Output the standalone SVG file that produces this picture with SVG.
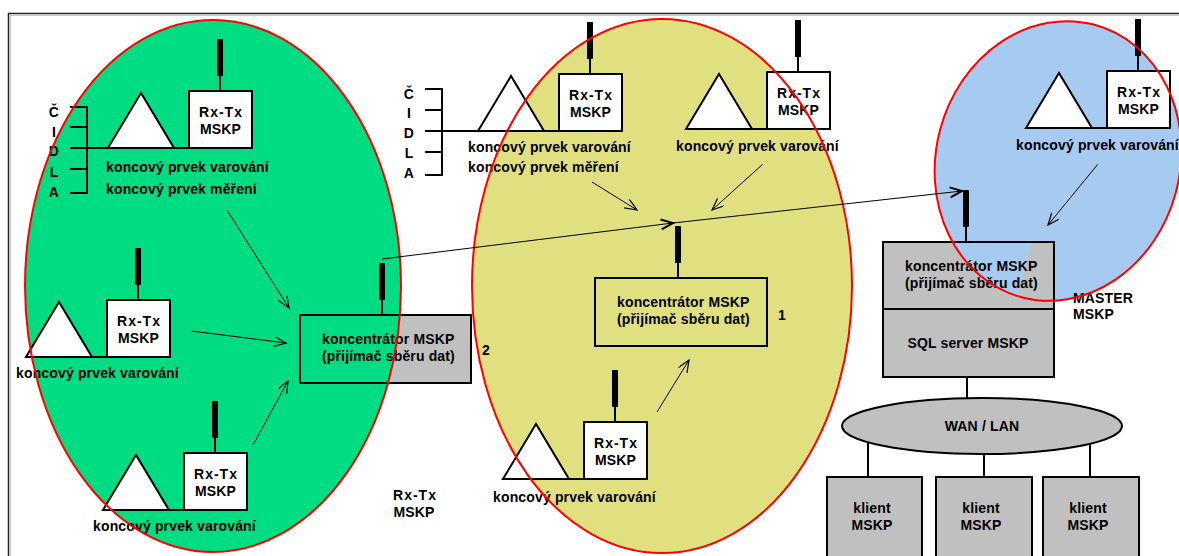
<svg xmlns="http://www.w3.org/2000/svg" xmlns:xlink="http://www.w3.org/1999/xlink" width="1179" height="556" viewBox="0 0 1179 556">
  <defs>
    <style>
      text { font-family: "Liberation Sans", Arial, sans-serif; font-weight: bold; font-size: 14px; fill: #000; letter-spacing: 0.15px; }
      .c { text-anchor: middle; }
      .rt { letter-spacing: 1px; }
      .box { fill: #fff; stroke: #000; stroke-width: 2; }
      .tri { fill: #fff; stroke: #000; stroke-width: 2; stroke-linejoin: miter; }
      .wire { stroke: #000; stroke-width: 2; fill: none; }
      .ant { fill: #000; }
      .grayfill { fill: #c0c0c0; }
      .edge { fill: none; stroke: #000; stroke-width: 2; }
      .gray { fill: #c0c0c0; stroke: #000; stroke-width: 2; }
      .zone-edge { fill: none; stroke: #ff0000; stroke-width: 2; }
      .link { stroke: #000; stroke-width: 1; fill: none; }
      .g-fill { fill: #00dc82; }
      .y-fill { fill: #e0e080; }
      .b-fill { fill: #a6caf0; }
    </style>
    <marker id="arr" markerWidth="14" markerHeight="12" refX="12" refY="5" orient="auto" markerUnits="userSpaceOnUse">
      <path d="M0,0 L12,5 L0,10" fill="none" stroke="#000" stroke-width="1.2"/>
    </marker>
    <marker id="arrB" markerWidth="16" markerHeight="14" refX="13" refY="6" orient="auto" markerUnits="userSpaceOnUse">
      <path d="M1,1 L13,6 L1,11" fill="none" stroke="#000" stroke-width="2"/>
    </marker>
    <!-- end unit: warning element (triangle) wired to an Rx-Tx radio box with antenna; origin = box top-left -->
    <g id="unit">
      <polygon class="tri" points="-81,57 -48,2 -15,57"/>
      <line class="wire" x1="-81" y1="57" x2="63" y2="57"/>
      <rect class="box" x="0" y="0" width="63" height="57"/>
      <line class="wire" x1="31" y1="-16" x2="31" y2="0"/>
      <rect class="ant" x="28" y="-52" width="6" height="37"/>
    </g>
    <clipPath id="clipC2"><rect x="300" y="315" width="171" height="68"/></clipPath>
    <clipPath id="clipMaster"><rect x="883" y="242" width="171" height="67"/></clipPath>
  </defs>

  <rect x="0" y="0" width="1179" height="556" fill="#fff"/>

  <!-- page frame -->
  <g id="frame">
    <line x1="8" y1="13.5" x2="1179" y2="13.5" stroke="#222" stroke-width="1.5"/>
    <line x1="8.5" y1="13" x2="8.5" y2="556" stroke="#222" stroke-width="1.5"/>
    <line x1="10" y1="15.5" x2="1179" y2="15.5" stroke="#c8c8c8" stroke-width="1"/>
    <line x1="10.5" y1="15" x2="10.5" y2="556" stroke="#c8c8c8" stroke-width="1"/>
  </g>

  <!-- coverage zones (fills) -->
  <g id="zones">
    <ellipse class="g-fill" cx="213" cy="286" rx="188" ry="266"/>
    <ellipse class="y-fill" cx="662" cy="286" rx="190" ry="267"/>
    <ellipse class="b-fill" cx="1058" cy="161" rx="122" ry="141" transform="rotate(15 1058 161)"/>
  </g>

  <!-- green zone: end unit with sensors -->
  <g id="node-g1">
    <line class="wire" x1="70" y1="148" x2="108" y2="148"/>
    <path class="wire" d="M70,107 H87 V193 H70 M70,127 H87 M70,169 H87"/>
    <text class="c" x="54" y="117">Č</text>
    <text class="c" x="54" y="137">I</text>
    <text class="c" x="54" y="156">D</text>
    <text class="c" x="54" y="177">L</text>
    <text class="c" x="54" y="197">A</text>
    <use xlink:href="#unit" x="189" y="91"/>
    <text class="c rt" x="221" y="117">Rx-Tx</text>
    <text class="c" x="220.5" y="134">MSKP</text>
    <text x="106" y="172">koncový prvek varování</text>
    <text x="106" y="194">koncový prvek měření</text>
  </g>

  <g id="node-g2">
    <use xlink:href="#unit" x="107" y="300"/>
    <text class="c rt" x="139" y="326">Rx-Tx</text>
    <text class="c" x="138.5" y="343">MSKP</text>
    <text x="16" y="378">koncový prvek varování</text>
  </g>

  <g id="node-g3">
    <use xlink:href="#unit" x="184" y="453"/>
    <text class="c rt" x="216" y="479">Rx-Tx</text>
    <text class="c" x="215.5" y="496">MSKP</text>
    <text x="93" y="531">koncový prvek varování</text>
  </g>

  <!-- concentrator 2 -->
  <g id="conc-2">
    <rect class="grayfill" x="300" y="315" width="171" height="68"/>
    <ellipse class="g-fill" cx="213" cy="286" rx="188" ry="266" clip-path="url(#clipC2)"/>
    <rect class="edge" x="300" y="315" width="171" height="68"/>
    <line class="wire" x1="382" y1="299" x2="382" y2="315"/>
    <rect class="ant" x="379" y="263" width="6" height="37"/>
    <text x="322" y="344">koncentrátor MSKP</text>
    <text x="322" y="361">(přijímač sběru dat)</text>
    <text class="c" x="486" y="355">2</text>
  </g>

  <!-- yellow zone -->
  <g id="node-y1">
    <line class="wire" x1="425" y1="131" x2="478" y2="131"/>
    <path class="wire" d="M425,89 H442 V175 H425 M425,110 H442 M425,152 H442"/>
    <text class="c" x="409" y="99">Č</text>
    <text class="c" x="409" y="118">I</text>
    <text class="c" x="409" y="138">D</text>
    <text class="c" x="409" y="158">L</text>
    <text class="c" x="409" y="178">A</text>
    <use xlink:href="#unit" x="559" y="74"/>
    <text class="c rt" x="591" y="100">Rx-Tx</text>
    <text class="c" x="590.5" y="117">MSKP</text>
    <text x="468" y="152">koncový prvek varování</text>
    <text x="468" y="172">koncový prvek měření</text>
  </g>

  <g id="node-y2">
    <use xlink:href="#unit" x="767" y="72"/>
    <text class="c rt" x="799" y="98">Rx-Tx</text>
    <text class="c" x="798.5" y="115">MSKP</text>
    <text x="676" y="151">koncový prvek varování</text>
  </g>

  <g id="node-y3">
    <use xlink:href="#unit" x="584" y="422"/>
    <text class="c rt" x="616" y="448">Rx-Tx</text>
    <text class="c" x="615.5" y="465">MSKP</text>
    <text x="493" y="502">koncový prvek varování</text>
  </g>

  <!-- concentrator 1 -->
  <g id="conc-1">
    <rect class="edge" x="595" y="278" width="172" height="68"/>
    <line class="wire" x1="678" y1="262" x2="678" y2="278"/>
    <rect class="ant" x="675" y="226" width="6" height="37"/>
    <text x="617" y="307">koncentrátor MSKP</text>
    <text x="617" y="324">(přijímač sběru dat)</text>
    <text class="c" x="782" y="320">1</text>
  </g>

  <!-- blue zone -->
  <g id="node-b1">
    <use xlink:href="#unit" x="1107" y="71"/>
    <text class="c rt" x="1139" y="97">Rx-Tx</text>
    <text class="c" x="1138.5" y="114">MSKP</text>
    <text x="1016" y="150">koncový prvek varování</text>
  </g>

  <!-- master concentrator with SQL server -->
  <g id="master">
    <rect class="grayfill" x="883" y="242" width="171" height="135"/>
    <ellipse class="b-fill" cx="1058" cy="161" rx="122" ry="141" transform="rotate(15 1058 161)" clip-path="url(#clipMaster)"/>
    <rect class="edge" x="883" y="242" width="171" height="135"/>
    <line class="wire" x1="883" y1="309" x2="1054" y2="309"/>
    <line class="wire" x1="966" y1="226" x2="966" y2="242"/>
    <rect class="ant" x="963" y="190" width="6" height="37"/>
    <text x="905" y="271">koncentrátor MSKP</text>
    <text x="905" y="288">(přijímač sběru dat)</text>
    <text class="c" x="968" y="348">SQL server MSKP</text>
    <text x="1073" y="303">MASTER</text>
    <text x="1073" y="319">MSKP</text>
  </g>

  <g id="network">
    <line class="wire" x1="967" y1="377" x2="967" y2="398"/>
    <ellipse class="gray" cx="982" cy="426" rx="140" ry="28"/>
    <text class="c" x="982" y="431">WAN / LAN</text>
  </g>

  <g id="client-1">
    <line class="wire" x1="868" y1="443" x2="868" y2="477"/>
    <rect class="gray" x="827" y="477" width="95" height="90"/>
    <text class="c" x="872" y="513">klient</text>
    <text class="c" x="872" y="530">MSKP</text>
  </g>
  <g id="client-2">
    <line class="wire" x1="984" y1="454" x2="984" y2="477"/>
    <rect class="gray" x="936" y="477" width="96" height="90"/>
    <text class="c" x="981" y="513">klient</text>
    <text class="c" x="981" y="530">MSKP</text>
  </g>
  <g id="client-3">
    <line class="wire" x1="1090" y1="444" x2="1090" y2="477"/>
    <rect class="gray" x="1043" y="477" width="96" height="90"/>
    <text class="c" x="1088" y="513">klient</text>
    <text class="c" x="1088" y="530">MSKP</text>
  </g>

  <g id="label-rxtx">
    <text class="c rt" x="415" y="500">Rx-Tx</text>
    <text class="c" x="414" y="517">MSKP</text>
  </g>

  <!-- zone outlines -->
  <g id="zone-outlines">
    <ellipse class="zone-edge" cx="213" cy="286" rx="188" ry="266"/>
    <ellipse class="zone-edge" cx="662" cy="286" rx="190" ry="267"/>
    <ellipse class="zone-edge" cx="1058" cy="161" rx="122" ry="141" transform="rotate(15 1058 161)"/>
  </g>

  <!-- radio links -->
  <g id="connectors">
    <line class="link" x1="227" y1="210" x2="289" y2="308" marker-end="url(#arr)"/>
    <line class="link" x1="191" y1="331" x2="286" y2="343" marker-end="url(#arr)"/>
    <line class="link" x1="253" y1="445" x2="288" y2="381" marker-end="url(#arr)"/>
    <line class="link" x1="382" y1="259" x2="673" y2="223" marker-end="url(#arrB)"/>
    <line class="link" x1="673" y1="223" x2="962" y2="191" marker-end="url(#arrB)"/>
    <line class="link" x1="592" y1="182" x2="637" y2="210" marker-end="url(#arr)"/>
    <line class="link" x1="763" y1="164" x2="712" y2="210" marker-end="url(#arr)"/>
    <line class="link" x1="657" y1="412" x2="689" y2="360" marker-end="url(#arr)"/>
    <line class="link" x1="1098" y1="164" x2="1048" y2="225" marker-end="url(#arr)"/>
  </g>
</svg>
